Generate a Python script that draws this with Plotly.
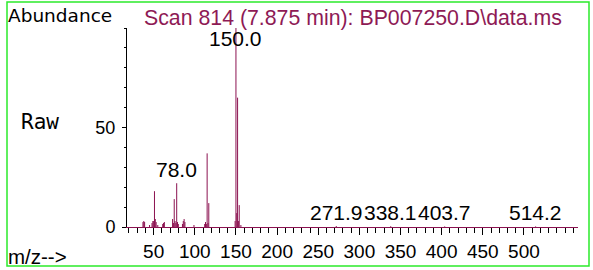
import plotly.graph_objects as go

# ---- data ----
mz = [37, 38, 39, 45, 48, 49, 50, 51, 52, 53, 55,
      61, 62, 63, 73, 74, 75, 76, 77, 78, 79, 80,
      85, 86, 87, 88, 99,
      112, 113, 114, 115, 116, 117,
      149, 150, 151, 152, 153, 154, 156,
      271.9, 338.1, 403.7, 514.2]
abundance = [2.5, 3, 2.5, 1, 2, 3, 3, 18, 4, 2.5, 1,
             1.5, 2, 2.5, 4, 2, 14, 3, 2, 22, 2.5, 1.5,
             1.5, 3, 4, 2.5, 1,
             1.5, 2.5, 1.5, 37, 2, 12,
             3, 100, 7, 65, 3, 11, 1,
             0.5, 0.4, 0.3, 0.3]
label_mz = [150.0, 78.0, 271.9, 338.1, 403.7, 514.2]
x_tickvals = [50, 100, 150, 200, 250, 300, 350, 400, 450, 500]
y_tickvals = [0, 50]
title_text = "Scan 814 (7.875 min): BP007250.D\\data.ms"

# ---- layout geometry (pixels) ----
W, H = 593, 270
L, R, T, B = 127, 15, 28, 43
PW, PH = W - L - R, H - T - B
X_MIN, X_MAX = 17.6, 565.7
Y_MAX = 100

def px(xp):
    return (xp - L) / PW

def py(yp):
    return (H - B - yp) / PH

PEAK = "#8B1250"
TITLE = "#8E1A55"
GREEN = "#2BEA2B"

xs, ys = [], []
for m, a in zip(mz, abundance):
    xs += [m, m, None]
    ys += [0, a, None]

fig = go.Figure()
fig.add_trace(go.Scatter(x=xs, y=ys, mode="lines",
                         line=dict(color=PEAK, width=1),
                         hoverinfo="skip", showlegend=False))

annotations = []
for lm in label_mz:
    idx = min(range(len(mz)), key=lambda i: abs(mz[i] - lm))
    h = abundance[idx]
    if h > 80:
        annotations.append(dict(x=lm, y=Y_MAX, xref="x", yref="y", text=f"{lm:.1f}",
                                showarrow=False, xanchor="center", yanchor="top", yshift=3,
                                font=dict(family="Liberation Sans, Arial", size=21, color="black")))
    else:
        annotations.append(dict(x=lm, y=h, xref="x", yref="y", text=f"{lm:.1f}",
                                showarrow=False, xanchor="center", yanchor="bottom",
                                font=dict(family="Liberation Sans, Arial", size=21, color="black")))

annotations += [
    dict(x=px(6), y=py(15), xref="paper", yref="paper", text="Abundance", showarrow=False,
         xanchor="left", yanchor="middle",
         font=dict(family="DejaVu Sans", size=18.5, color="black")),
    dict(x=px(142), y=py(18), xref="paper", yref="paper", text=title_text, showarrow=False,
         xanchor="left", yanchor="middle",
         font=dict(family="Liberation Sans, Arial", size=21.3, color=TITLE)),
    dict(x=px(19), y=py(122), xref="paper", yref="paper", text="Raw", showarrow=False,
         xanchor="left", yanchor="middle",
         font=dict(family="DejaVu Sans Mono", size=21, color="black")),
    dict(x=px(6), y=py(256), xref="paper", yref="paper", text="m/z-->", showarrow=False,
         xanchor="left", yanchor="middle",
         font=dict(family="Liberation Sans, Arial", size=20.5, color="black")),
]

fig.update_layout(
    width=W, height=H, autosize=False,
    margin=dict(l=L, r=R, t=T, b=B, pad=0, autoexpand=False),
    paper_bgcolor="white", plot_bgcolor="white",
    showlegend=False,
    annotations=annotations,
    shapes=[dict(type="rect", xref="paper", yref="paper",
                 x0=px(7), x1=px(589), y0=py(266), y1=py(2),
                 line=dict(color=GREEN, width=1.5), fillcolor="rgba(0,0,0,0)", layer="below")],
)
fig.update_xaxes(range=[X_MIN, X_MAX], showgrid=False, zeroline=False, automargin=False,
                 showline=True, linecolor=PEAK, linewidth=1,
                 tickmode="array", tickvals=x_tickvals, ticktext=[str(v) for v in x_tickvals],
                 ticks="outside", ticklen=7, tickcolor="black", tickwidth=1,
                 ticklabelstandoff=0,
                 minor=dict(dtick=10, tick0=0, ticks="outside", ticklen=4.5, tickcolor="black", tickwidth=1),
                 tickfont=dict(family="Liberation Sans, Arial", size=19, color="black"))
fig.update_yaxes(range=[0, Y_MAX], showgrid=False, zeroline=False, automargin=False,
                 showline=True, linecolor="black", linewidth=1,
                 tickmode="array", tickvals=y_tickvals, ticktext=[str(v) for v in y_tickvals],
                 ticks="outside", ticklen=4, tickcolor="black", tickwidth=1,
                 ticklabelstandoff=3,
                 minor=dict(dtick=10, tick0=0, ticks="outside", ticklen=2.5, tickcolor="black", tickwidth=1),
                 tickfont=dict(family="Liberation Sans, Arial", size=18, color="black"))

fig.write_html("out.html",
               config={"displayModeBar": False, "responsive": False, "staticPlot": True},
               post_script="document.body.style.margin='0';document.body.style.overflow='hidden';")
